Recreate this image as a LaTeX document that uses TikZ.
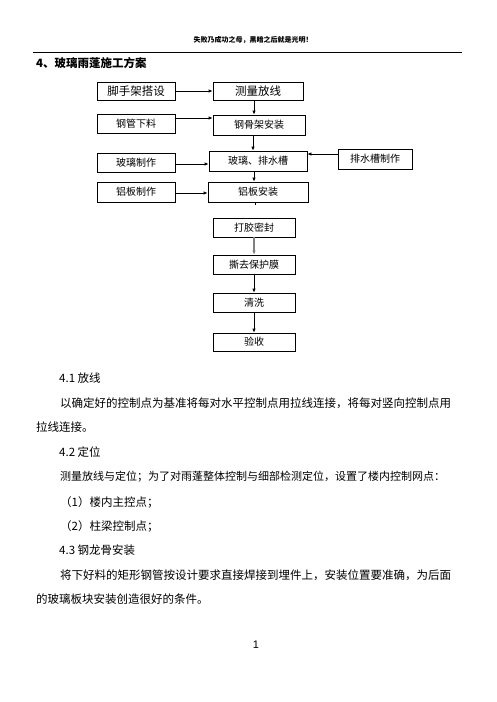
\documentclass[tikz,border=0pt]{standalone}
\usepackage{fontspec}
\setmainfont{Liberation Sans}
\newfontfamily\cjk{Noto Sans CJK SC}
\usetikzlibrary{arrows.meta}
\begin{document}
\begin{tikzpicture}[x=1pt,y=-1pt,
  box/.style={draw,line width=0.8pt,inner sep=0pt,font=\cjk\fontsize{10}{10}\selectfont},
  flow/.style={-{Latex[length=4pt,width=3.5pt]},line width=0.8pt},
  body/.style={anchor=west,inner sep=0pt,font=\cjk\fontsize{11.5}{12}\selectfont}]
\useasboundingbox[fill=white] (0,0) rectangle (496,702);
% header
\node[inner sep=0pt,font=\cjk\bfseries\fontsize{7}{7}\selectfont] (hdr) at (253,40) {失败乃成功之母，黑暗之后就是光明！};
\coordinate (hl) at (33,52.5);
\coordinate (hr) at (462,52.5);
\draw[line width=0.8pt] (hl) -- (hr);
\node[anchor=west,inner sep=0pt,font=\cjk\bfseries\fontsize{11.5}{12}\selectfont] (title) at (36,63) {4、玻璃雨蓬施工方案};
% boxes
\node[box,minimum width=78pt,minimum height=18pt,font=\cjk\fontsize{11.5}{12}\selectfont] (a1) at (136,91) {脚手架搭设};
\node[box,minimum width=90pt,minimum height=18pt,font=\cjk\fontsize{11.5}{12}\selectfont] (a2) at (258,91) {测量放线};
\node[box,minimum width=78pt,minimum height=19pt] (b1) at (136,123.5) {钢管下料};
\node[box,minimum width=92pt,minimum height=20pt] (b2) at (259,125) {钢骨架安装};
\node[box,minimum width=78pt,minimum height=19pt] (c1) at (136,162.5) {玻璃制作};
\node[box,minimum width=98pt,minimum height=20pt] (c2) at (258,161) {玻璃、排水槽};
\node[box,minimum width=74pt,minimum height=20pt] (c3) at (375,159) {排水槽制作};
\node[box,minimum width=78pt,minimum height=20pt] (d1) at (136,192) {铝板制作};
\node[box,minimum width=100pt,minimum height=20pt] (d2) at (258,192) {铝板安装};
\node[box,minimum width=82pt,minimum height=19pt] (e1) at (254,227.5) {打胶密封};
\node[box,minimum width=82pt,minimum height=19pt] (e2) at (254,264.5) {撕去保护膜};
\node[box,minimum width=82pt,minimum height=19pt] (e3) at (254,302.5) {清洗};
\node[box,minimum width=82pt,minimum height=18pt] (e4) at (254,342) {验收};
% connectors
\draw[flow] (a1.east) -- (a2.west);
\draw[flow] (a2.south -| 254,0) -- (b2.north -| 254,0);
\draw[flow] (b1.east |- 0,118) -- (b2.west |- 0,118);
\draw[flow] (b2.south -| 253,0) -- (c2.north -| 253,0);
\draw[flow] (c1.east |- 0,164) -- (c2.west |- 0,164);
\draw[flow] (c3.west |- 0,154) -- (c2.east |- 0,154);
\draw[flow] (c2.south -| 254,0) -- (d2.north -| 254,0);
\draw[flow] (d1.east |- 0,193) -- (d2.west |- 0,193);
\coordinate (dtick) at (255,205);
\draw[line width=0.8pt] (d2.south -| 255,0) -- (dtick);
\draw[flow,line width=1.4pt,draw=gray] (e1.south -| 254,0) -- (e2.north -| 254,0);
\draw[flow] (e2.south -| 254,0) -- (e3.north -| 254,0);
\draw[flow] (e3.south -| 254,0) -- (e4.north -| 254,0);
% body text
\node[body] (t1) at (59,378) {4.1 放线};
\node[body] (t2) at (60,403) {以确定好的控制点为基准将每对水平控制点用拉线连接，将每对竖向控制点用};
\node[body] (t3) at (36,427) {拉线连接。};
\node[body] (t4) at (59,452) {4.2 定位};
\node[body] (t5) at (60,477) {\fontsize{11}{12}\selectfont 测量放线与定位；为了对雨蓬整体控制与细部检测定位，设置了楼内控制网点：};
\node[body] (t6) at (60,502) {（1）楼内主控点；};
\node[body] (t7) at (60,526) {（2）柱梁控制点；};
\node[body] (t8) at (59,550) {4.3 钢龙骨安装};
\node[body] (t9) at (60,575) {将下好料的矩形钢管按设计要求直接焊接到埋件上，安装位置要准确，为后面};
\node[body] (t10) at (36,599) {的玻璃板块安装创造很好的条件。};
\node[inner sep=0pt,font=\fontsize{11}{12}\selectfont] (pg) at (256,645) {1};
\end{tikzpicture}
\end{document}
